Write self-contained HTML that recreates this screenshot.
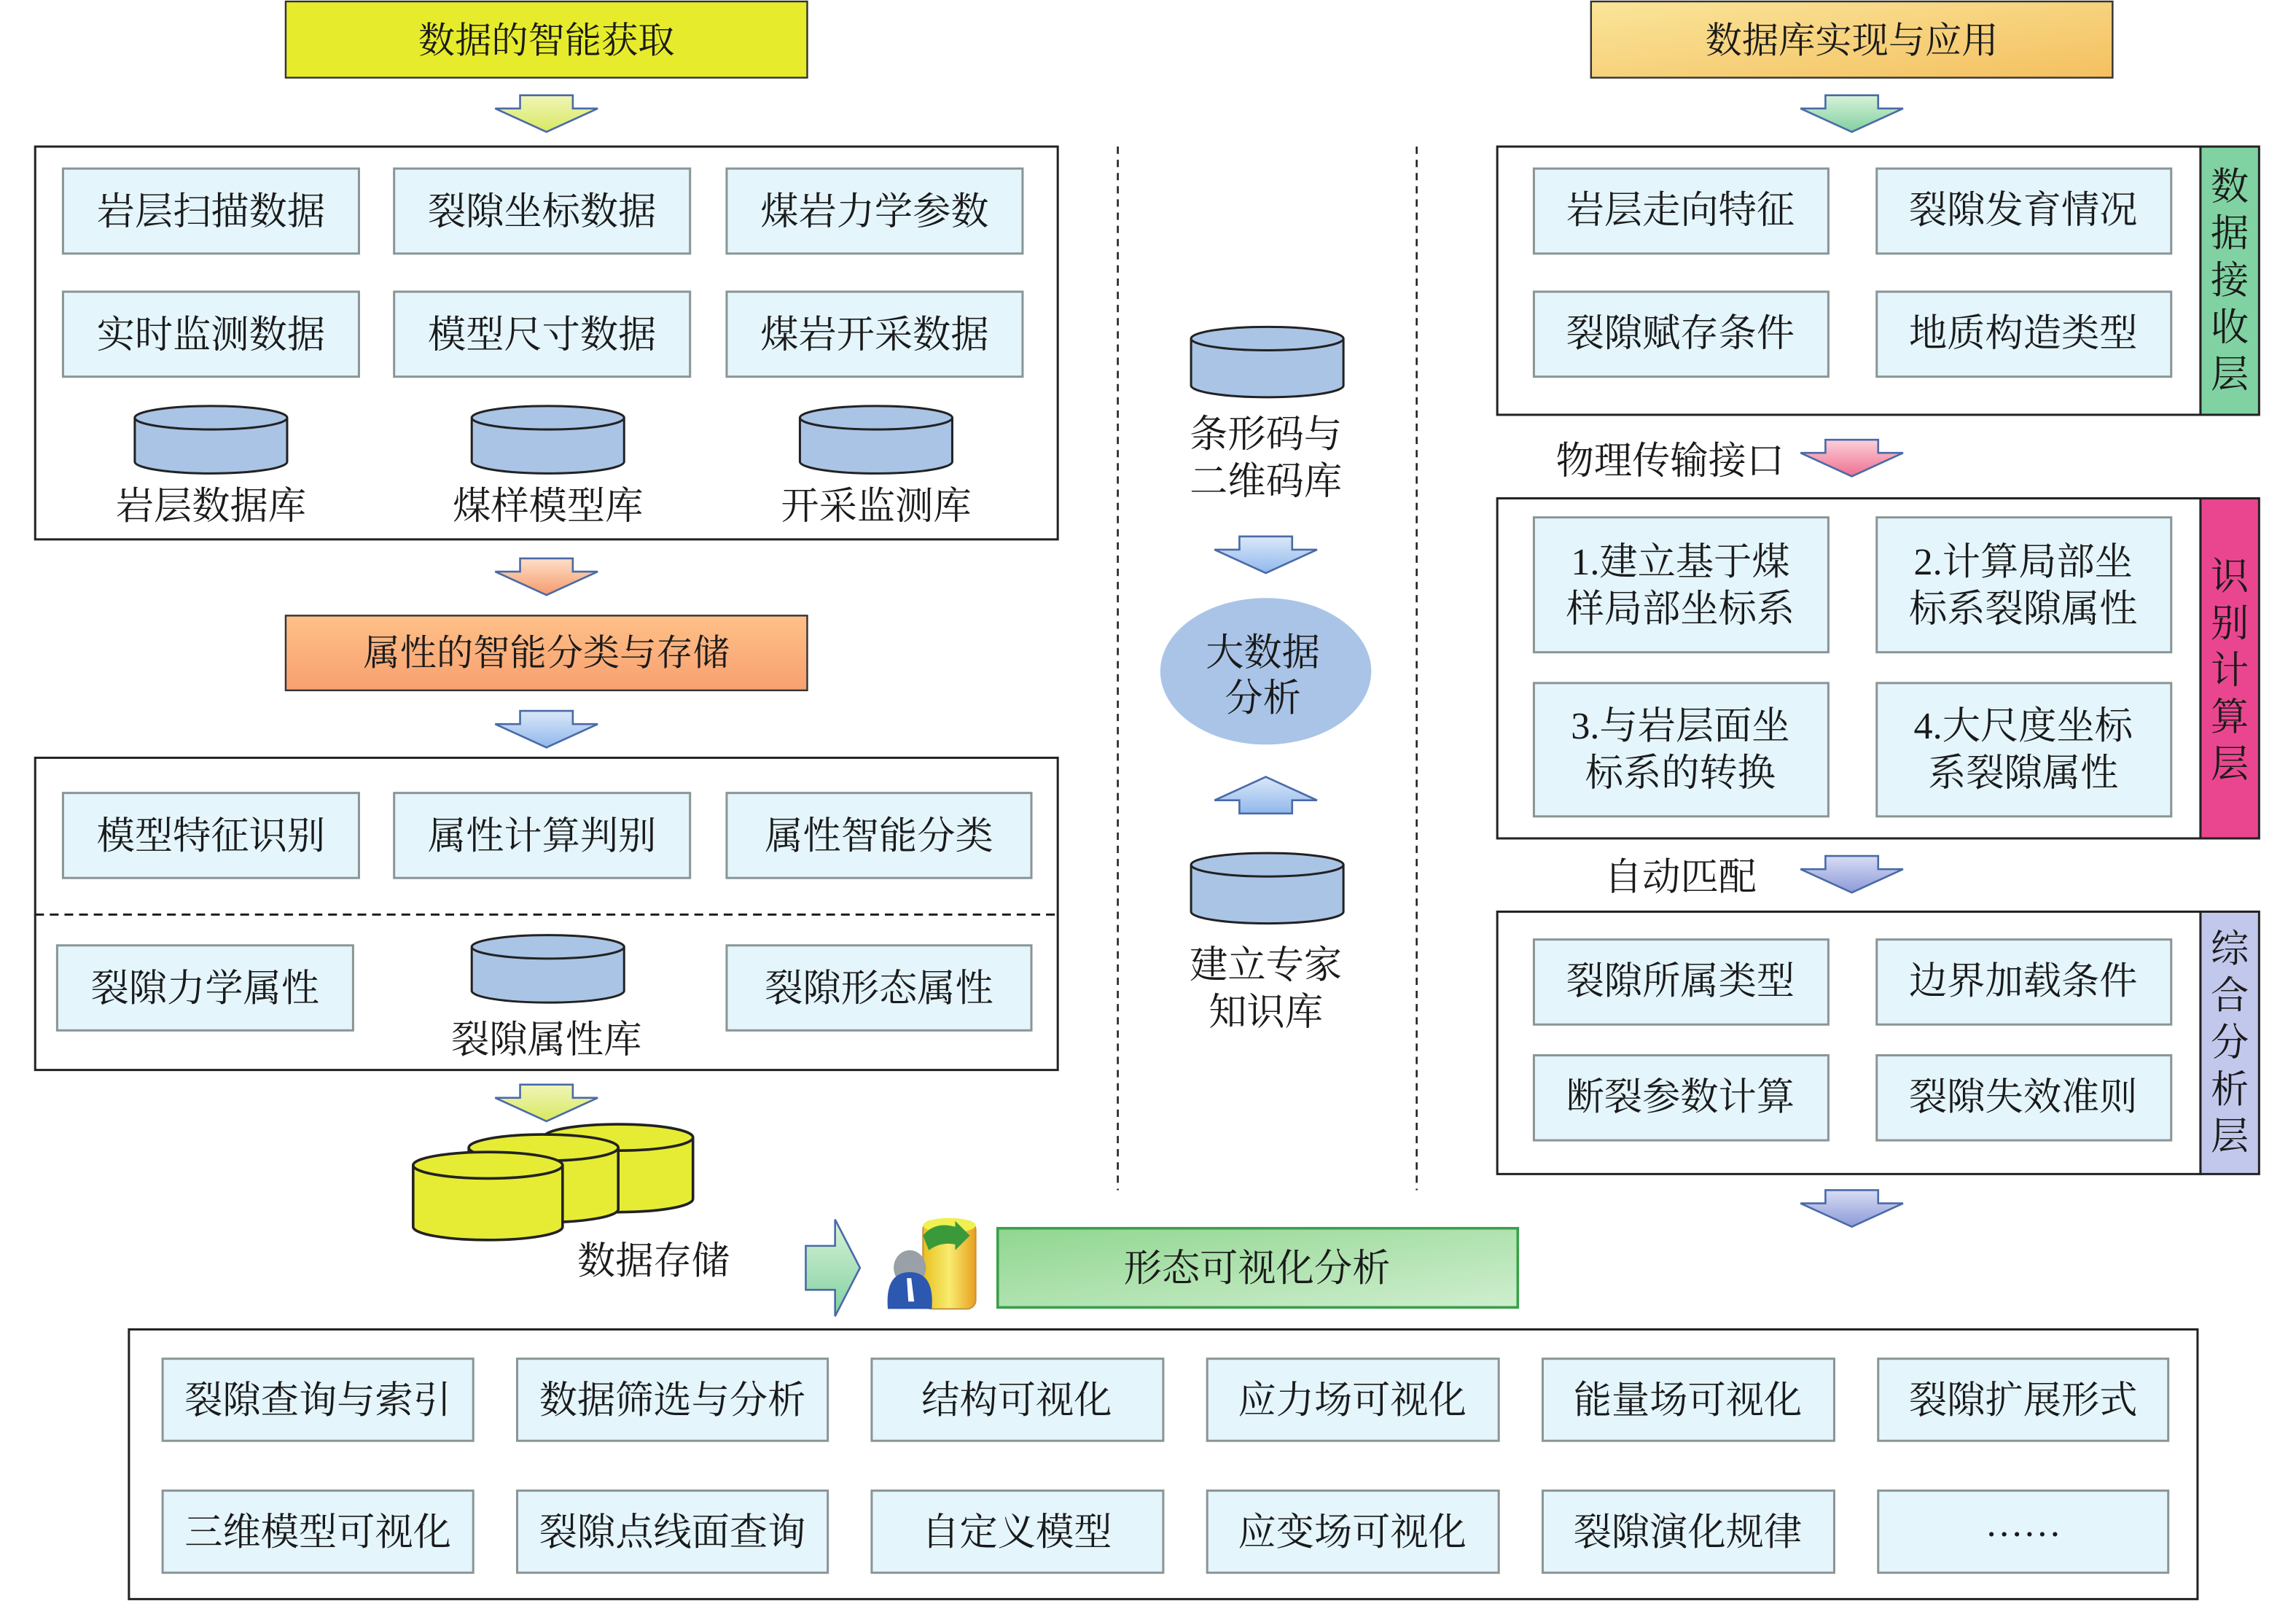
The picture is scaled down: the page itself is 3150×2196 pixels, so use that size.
<!DOCTYPE html>
<html><head><meta charset="utf-8"><style>
html,body{margin:0;padding:0;background:#fff;}
svg{display:block;}
text{font-family:"Liberation Serif","Noto Serif CJK SC",serif;fill:#1a1a1a;}
</style></head><body>
<svg width="3150" height="2196" viewBox="0 0 1567.2 1092.3" preserveAspectRatio="none" xmlns="http://www.w3.org/2000/svg">
<defs>
<linearGradient id="gY" x1="0" y1="0" x2="0" y2="1"><stop offset="0" stop-color="#f0f5b8"/><stop offset="1" stop-color="#d8e860"/></linearGradient>
<linearGradient id="gO" x1="0" y1="0" x2="0" y2="1"><stop offset="0" stop-color="#fde0c8"/><stop offset="1" stop-color="#f59a6c"/></linearGradient>
<linearGradient id="gB" x1="0" y1="0" x2="0" y2="1"><stop offset="0" stop-color="#dbe8f8"/><stop offset="1" stop-color="#90b8ec"/></linearGradient>
<linearGradient id="gG" x1="0" y1="0" x2="0" y2="1"><stop offset="0" stop-color="#d8f2d8"/><stop offset="1" stop-color="#80d0a0"/></linearGradient>
<linearGradient id="gP" x1="0" y1="0" x2="0" y2="1"><stop offset="0" stop-color="#fcd0da"/><stop offset="1" stop-color="#ee6f90"/></linearGradient>
<linearGradient id="gL" x1="0" y1="0" x2="0" y2="1"><stop offset="0" stop-color="#d8dcf4"/><stop offset="1" stop-color="#8c9ad8"/></linearGradient>
<linearGradient id="gT1" x1="0" y1="0" x2="0" y2="1"><stop offset="0" stop-color="#ffc088"/><stop offset="1" stop-color="#f7a070"/></linearGradient>
<linearGradient id="gT2" x1="0" y1="0" x2="1" y2="1"><stop offset="0" stop-color="#fae59a"/><stop offset="1" stop-color="#f4c060"/></linearGradient>
<linearGradient id="gGr" x1="0" y1="0" x2="1" y2="1"><stop offset="0" stop-color="#90d690"/><stop offset="1" stop-color="#cfeecf"/></linearGradient>
<linearGradient id="gCyl" x1="0" y1="0" x2="1" y2="0"><stop offset="0" stop-color="#e8c020"/><stop offset=".5" stop-color="#f8ec70"/><stop offset="1" stop-color="#e8a020"/></linearGradient>
</defs>

<rect x="195" y="1" width="356" height="52" fill="#e6ec2c" stroke="#333" stroke-width="1.2"/>
<text x="373" y="36" font-size="25" text-anchor="middle">数据的智能获取</text>
<rect x="195" y="420" width="356" height="51" fill="url(#gT1)" stroke="#333" stroke-width="1.2"/>
<text x="373" y="454" font-size="25" text-anchor="middle">属性的智能分类与存储</text>
<rect x="1086" y="1" width="356" height="52" fill="url(#gT2)" stroke="#333" stroke-width="1.2"/>
<text x="1264" y="36" font-size="25" text-anchor="middle">数据库实现与应用</text>

<g stroke="#4a6aa8" stroke-width="1.3">
<polygon points="355,65 391,65 391,74 408,74 373,90 338,74 355,74" fill="url(#gY)"/>
<polygon points="355,381 391,381 391,390 408,390 373,406 338,390 355,390" fill="url(#gO)"/>
<polygon points="355,485 391,485 391,494 408,494 373,510 338,494 355,494" fill="url(#gB)"/>
<polygon points="355,740 391,740 391,749 408,749 373,765 338,749 355,749" fill="url(#gY)"/>
<polygon points="1246,65 1282,65 1282,74 1299,74 1264,90 1229,74 1246,74" fill="url(#gG)"/>
<polygon points="1246,300 1282,300 1282,309 1299,309 1264,325 1229,309 1246,309" fill="url(#gP)"/>
<polygon points="1246,584 1282,584 1282,593 1299,593 1264,609 1229,593 1246,593" fill="url(#gL)"/>
<polygon points="1246,812 1282,812 1282,821 1299,821 1264,837 1229,821 1246,821" fill="url(#gL)"/>
<polygon points="846,366 882,366 882,375 899,375 864,391 829,375 846,375" fill="url(#gB)"/>
<polygon points="846,555 882,555 882,546 899,546 864,530 829,546 846,546" fill="url(#gB)"/>
<polygon points="550,850 570,850 570,832 587,865 570,898 570,880 550,880" fill="url(#gG)"/>
</g>

<rect x="24" y="100" width="698" height="268" fill="#fff" stroke="#222" stroke-width="1.5"/>
<g fill="#e4f5fc" stroke="#8a9696" stroke-width="1.5">
<rect x="43" y="115" width="202" height="58"/><rect x="269" y="115" width="202" height="58"/><rect x="496" y="115" width="202" height="58"/>
<rect x="43" y="199" width="202" height="58"/><rect x="269" y="199" width="202" height="58"/><rect x="496" y="199" width="202" height="58"/>
</g>
<g font-size="26" text-anchor="middle">
<text x="144" y="153">岩层扫描数据</text><text x="370" y="153">裂隙坐标数据</text><text x="597" y="153">煤岩力学参数</text>
<text x="144" y="237">实时监测数据</text><text x="370" y="237">模型尺寸数据</text><text x="597" y="237">煤岩开采数据</text>
</g>
<g fill="#aac4e6" stroke="#222" stroke-width="1.5">
<path d="M92,285 v30 a52,8 0 0 0 104,0 v-30"/><ellipse cx="144" cy="285" rx="52" ry="8"/>
<path d="M322,285 v30 a52,8 0 0 0 104,0 v-30"/><ellipse cx="374" cy="285" rx="52" ry="8"/>
<path d="M546,285 v30 a52,8 0 0 0 104,0 v-30"/><ellipse cx="598" cy="285" rx="52" ry="8"/>
</g>
<g font-size="26" text-anchor="middle">
<text x="144" y="354">岩层数据库</text><text x="374" y="354">煤样模型库</text><text x="598" y="354">开采监测库</text>
</g>

<rect x="24" y="517" width="698" height="213" fill="#fff" stroke="#222" stroke-width="1.5"/>
<line x1="24" y1="624" x2="722" y2="624" stroke="#222" stroke-width="1.5" stroke-dasharray="6,4"/>
<g fill="#e4f5fc" stroke="#8a9696" stroke-width="1.5">
<rect x="43" y="541" width="202" height="58"/><rect x="269" y="541" width="202" height="58"/><rect x="496" y="541" width="208" height="58"/>
<rect x="39" y="645" width="202" height="58"/><rect x="496" y="645" width="208" height="58"/>
</g>
<g font-size="26" text-anchor="middle">
<text x="144" y="579">模型特征识别</text><text x="370" y="579">属性计算判别</text><text x="600" y="579">属性智能分类</text>
<text x="140" y="683">裂隙力学属性</text><text x="600" y="683">裂隙形态属性</text>
<text x="373" y="718">裂隙属性库</text>
</g>
<g fill="#aac4e6" stroke="#222" stroke-width="1.5">
<path d="M322,646 v30 a52,8 0 0 0 104,0 v-30"/><ellipse cx="374" cy="646" rx="52" ry="8"/>
</g>

<g fill="#e6ec34" stroke="#222" stroke-width="1.8">
<path d="M371,776 v42 a51,9 0 0 0 102,0 v-42"/><ellipse cx="422" cy="776" rx="51" ry="9"/>
<path d="M320,783 v42 a51,9 0 0 0 102,0 v-42"/><ellipse cx="371" cy="783" rx="51" ry="9"/>
<path d="M282,795 v42 a51,9 0 0 0 102,0 v-42"/><ellipse cx="333" cy="795" rx="51" ry="9"/>
</g>
<text x="446" y="869" font-size="26" text-anchor="middle">数据存储</text>

<rect x="630" y="833" width="36" height="60" rx="6" fill="url(#gCyl)" stroke="#c89040" stroke-width="1"/>
<ellipse cx="648" cy="836" rx="18" ry="5" fill="#f0f050"/>
<path d="M630,843 q8,-10 22,-6 v-4 l10,10 l-10,10 v-4 q-10,-2 -18,4z" fill="#3a9a3a"/>
<ellipse cx="621" cy="865" rx="11" ry="12" fill="#9aa0a8"/>
<path d="M606,893 q-2,-25 15,-25 q17,0 15,25z" fill="#2c58b0"/>
<path d="M619,872 l3,0 l2,16 l-4,0z" fill="#fff"/>

<rect x="681" y="838" width="355" height="54" fill="url(#gGr)" stroke="#3aa04a" stroke-width="1.8"/>
<text x="858" y="874" font-size="26" text-anchor="middle">形态可视化分析</text>

<rect x="88" y="907" width="1412" height="184" fill="#fff" stroke="#222" stroke-width="1.5"/>
<g fill="#e4f5fc" stroke="#8a9696" stroke-width="1.5">
<rect x="111" y="927" width="212" height="56"/><rect x="353" y="927" width="212" height="56"/><rect x="595" y="927" width="199" height="56"/><rect x="824" y="927" width="199" height="56"/><rect x="1053" y="927" width="199" height="56"/><rect x="1282" y="927" width="198" height="56"/>
<rect x="111" y="1017" width="212" height="56"/><rect x="353" y="1017" width="212" height="56"/><rect x="595" y="1017" width="199" height="56"/><rect x="824" y="1017" width="199" height="56"/><rect x="1053" y="1017" width="199" height="56"/><rect x="1282" y="1017" width="198" height="56"/>
</g>
<g font-size="26" text-anchor="middle">
<text x="217" y="964">裂隙查询与索引</text><text x="459" y="964">数据筛选与分析</text><text x="694" y="964">结构可视化</text><text x="923" y="964">应力场可视化</text><text x="1152" y="964">能量场可视化</text><text x="1381" y="964">裂隙扩展形式</text>
<text x="217" y="1054">三维模型可视化</text><text x="459" y="1054">裂隙点线面查询</text><text x="694" y="1054">自定义模型</text><text x="923" y="1054">应变场可视化</text><text x="1152" y="1054">裂隙演化规律</text><text x="1381" y="1048">……</text>
</g>

<line x1="763" y1="100" x2="763" y2="812" stroke="#222" stroke-width="1.3" stroke-dasharray="5,4"/>
<line x1="967" y1="100" x2="967" y2="812" stroke="#222" stroke-width="1.3" stroke-dasharray="5,4"/>

<g fill="#aac4e6" stroke="#222" stroke-width="1.5">
<path d="M813,231 v32 a52,8 0 0 0 104,0 v-32"/><ellipse cx="865" cy="231" rx="52" ry="8"/>
<path d="M813,590 v32 a52,8 0 0 0 104,0 v-32"/><ellipse cx="865" cy="590" rx="52" ry="8"/>
</g>
<ellipse cx="864" cy="458" rx="72" ry="50" fill="#a9c4e6"/>
<g font-size="26" text-anchor="middle">
<text x="864" y="305">条形码与</text><text x="864" y="337">二维码库</text>
<text x="862" y="454">大数据</text><text x="862" y="485">分析</text>
<text x="864" y="667">建立专家</text><text x="864" y="699">知识库</text>
</g>

<rect x="1022" y="100" width="480" height="183" fill="#fff" stroke="#222" stroke-width="1.5"/>
<rect x="1502" y="100" width="40" height="183" fill="#80d2a2" stroke="#222" stroke-width="1.5"/>
<g fill="#e4f5fc" stroke="#8a9696" stroke-width="1.5">
<rect x="1047" y="115" width="201" height="58"/><rect x="1281" y="115" width="201" height="58"/>
<rect x="1047" y="199" width="201" height="58"/><rect x="1281" y="199" width="201" height="58"/>
</g>
<g font-size="26" text-anchor="middle">
<text x="1147" y="152">岩层走向特征</text><text x="1381" y="152">裂隙发育情况</text>
<text x="1147" y="236">裂隙赋存条件</text><text x="1381" y="236">地质构造类型</text>
<text x="1140" y="323">物理传输接口</text>
<text x="1147" y="607">自动匹配</text>
</g>
<g font-size="26" text-anchor="middle">
<text x="1522" y="136">数</text><text x="1522" y="168">据</text><text x="1522" y="200">接</text><text x="1522" y="232">收</text><text x="1522" y="264">层</text>
</g>

<rect x="1022" y="340" width="480" height="232" fill="#fff" stroke="#222" stroke-width="1.5"/>
<rect x="1502" y="340" width="40" height="232" fill="#ea4690" stroke="#222" stroke-width="1.5"/>
<g fill="#e4f5fc" stroke="#8a9696" stroke-width="1.5">
<rect x="1047" y="353" width="201" height="92"/><rect x="1281" y="353" width="201" height="92"/>
<rect x="1047" y="466" width="201" height="91"/><rect x="1281" y="466" width="201" height="91"/>
</g>
<g font-size="26" text-anchor="middle">
<text x="1147" y="392">1.建立基于煤</text><text x="1147" y="424">样局部坐标系</text>
<text x="1381" y="392">2.计算局部坐</text><text x="1381" y="424">标系裂隙属性</text>
<text x="1147" y="504">3.与岩层面坐</text><text x="1147" y="536">标系的转换</text>
<text x="1381" y="504">4.大尺度坐标</text><text x="1381" y="536">系裂隙属性</text>
<text x="1522" y="402">识</text><text x="1522" y="434">别</text><text x="1522" y="466">计</text><text x="1522" y="498">算</text><text x="1522" y="530">层</text>
</g>

<rect x="1022" y="622" width="480" height="179" fill="#fff" stroke="#222" stroke-width="1.5"/>
<rect x="1502" y="622" width="40" height="179" fill="#c2c8ec" stroke="#222" stroke-width="1.5"/>
<g fill="#e4f5fc" stroke="#8a9696" stroke-width="1.5">
<rect x="1047" y="641" width="201" height="58"/><rect x="1281" y="641" width="201" height="58"/>
<rect x="1047" y="720" width="201" height="58"/><rect x="1281" y="720" width="201" height="58"/>
</g>
<g font-size="26" text-anchor="middle">
<text x="1147" y="678">裂隙所属类型</text><text x="1381" y="678">边界加载条件</text>
<text x="1147" y="757">断裂参数计算</text><text x="1381" y="757">裂隙失效准则</text>
<text x="1522" y="656">综</text><text x="1522" y="688">合</text><text x="1522" y="720">分</text><text x="1522" y="752">析</text><text x="1522" y="784">层</text>
</g>
</svg>
</body></html>
